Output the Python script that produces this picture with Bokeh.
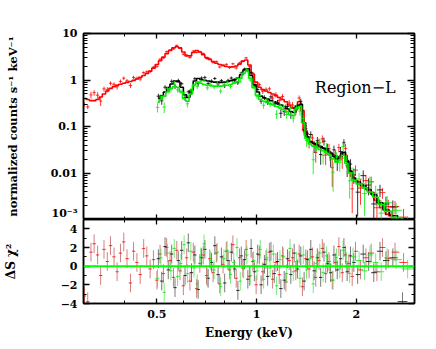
import numpy as np
from bokeh.plotting import figure
from bokeh.layouts import column
from bokeh.models import LogAxis, LinearAxis, FixedTicker, Label, Span
from bokeh.embed import file_html
from bokeh.resources import INLINE

# ---------------- data ----------------
red_E = [0.302, 0.309, 0.316, 0.323, 0.331, 0.338, 0.346, 0.354, 0.362, 0.371,
         0.379, 0.388, 0.397, 0.406, 0.416, 0.425, 0.435, 0.445, 0.456, 0.466,
         0.477, 0.488, 0.500, 0.511, 0.523, 0.535, 0.548, 0.561, 0.574, 0.587,
         0.601, 0.615, 0.629, 0.644, 0.659, 0.674, 0.690, 0.706, 0.722, 0.739,
         0.756, 0.774, 0.792, 0.810, 0.829, 0.848, 0.868, 0.888, 0.909, 0.930,
         0.952, 0.974, 0.997, 1.020, 1.044, 1.068, 1.093, 1.118, 1.144, 1.171,
         1.198, 1.226, 1.255, 1.284, 1.314, 1.345, 1.376, 1.408, 1.441, 1.475,
         1.509, 1.544, 1.580, 1.617, 1.655, 1.693, 1.733, 1.773, 1.815, 1.857,
         1.900, 1.945, 1.990, 2.060, 2.140, 2.220, 2.310, 2.400, 2.500, 2.620,
         2.780]
red_model = [0.40, 0.38, 0.36, 0.36, 0.38, 0.43, 0.50, 0.58, 0.66, 0.72,
             0.77, 0.81, 0.85, 0.89, 0.93, 0.98, 1.05, 1.14, 1.25, 1.38,
             1.55, 1.80, 2.15, 2.60, 3.10, 3.70, 4.30, 4.90, 5.20, 4.90,
             4.00, 3.30, 3.30, 3.90, 4.30, 4.00, 3.50, 3.05, 2.75, 2.50,
             2.30, 2.15, 2.05, 1.95, 1.90, 1.92, 2.00, 2.20, 2.55, 2.70,
             2.10, 1.35, 0.90, 0.70, 0.62, 0.58, 0.54, 0.50, 0.46, 0.42,
             0.38, 0.34, 0.29, 0.25, 0.24, 0.34, 0.22, 0.075, 0.050, 0.045,
             0.041, 0.038, 0.035, 0.032, 0.029, 0.025, 0.021, 0.020, 0.027, 0.024,
             0.013, 0.0085, 0.0068, 0.0058, 0.0048, 0.0038, 0.0026, 0.0018, 0.0013, 0.0010,
             0.0009]
red_err = [0.08, 0.08, 0.22, 0.20, 0.20, 0.18, 0.16, 0.14, 0.13, 0.12,
           0.12, 0.11, 0.11, 0.10, 0.10, 0.10, 0.09, 0.09, 0.08, 0.08,
           0.07, 0.07, 0.06, 0.06, 0.05, 0.05, 0.05, 0.04, 0.04, 0.04,
           0.05, 0.05, 0.05, 0.05, 0.04, 0.05, 0.05, 0.05, 0.06, 0.06,
           0.06, 0.06, 0.07, 0.07, 0.07, 0.07, 0.07, 0.06, 0.06, 0.06,
           0.07, 0.08, 0.10, 0.11, 0.12, 0.12, 0.13, 0.13, 0.14, 0.15,
           0.15, 0.16, 0.17, 0.18, 0.18, 0.16, 0.20, 0.24, 0.25, 0.26,
           0.27, 0.28, 0.29, 0.30, 0.31, 0.32, 0.34, 0.36, 0.32, 0.34,
           0.38, 0.42, 0.44, 0.46, 0.48, 0.50, 0.52, 0.55, 0.58, 0.60,
           0.62]
red_res = [-3.2, -3.8, 1.5, 2.4, 1.2, -1.0, 1.8, 0.5, 2.2, 1.0,
           -0.6, 1.4, 2.6, 0.8, -1.8, 1.6, 0.4, -0.9, 1.9, 1.1,
           -0.3, 0.7, -1.5, 1.3, -0.8, 2.0, 0.6, -1.2, 1.7, -0.5,
           -2.1, 0.9, -1.6, 1.5, -2.4, 0.3, 1.2, -1.0, 0.8, -0.7,
           1.4, -1.9, 0.2, 1.6, -0.4, 2.3, -1.3, 0.9, -0.2, 1.8,
           -1.1, 0.5, -2.0, 1.2, -0.6, 0.7, 1.5, -1.4, 0.4, -0.9,
           1.1, -1.7, 0.6, 0.9, -0.5, 1.3, -2.2, 0.8, -0.3, 1.0,
           -1.2, 0.6, 1.9, -0.8, 0.5, -1.5, 0.4, 2.1, -0.7, 1.2,
           0.3, -1.1, 1.6, -0.4, 0.9, 1.4, -0.6, 2.0, 0.8, 1.5,
           0.4]

black_E = [0.505, 0.517, 0.529, 0.541, 0.554, 0.567, 0.580, 0.594, 0.608, 0.622,
           0.636, 0.651, 0.666, 0.682, 0.698, 0.714, 0.731, 0.748, 0.765, 0.783,
           0.801, 0.820, 0.839, 0.858, 0.878, 0.899, 0.920, 0.941, 0.963, 0.985,
           1.008, 1.032, 1.056, 1.080, 1.105, 1.131, 1.157, 1.184, 1.212, 1.240,
           1.269, 1.299, 1.329, 1.360, 1.392, 1.424, 1.458, 1.492, 1.526, 1.562,
           1.598, 1.636, 1.674, 1.713, 1.753, 1.794, 1.836, 1.878, 1.922, 1.967,
           2.020, 2.100, 2.180, 2.260, 2.360, 2.460, 2.580, 2.760]
black_model = [0.40, 0.46, 0.55, 0.68, 0.82, 0.95, 0.92, 0.70, 0.48, 0.42,
               0.60, 0.95, 1.08, 1.02, 0.98, 0.95, 0.92, 0.90, 0.90, 0.89,
               0.90, 0.93, 0.97, 1.02, 1.10, 1.30, 1.65, 1.75, 1.25, 0.80,
               0.55, 0.45, 0.41, 0.39, 0.36, 0.34, 0.31, 0.29, 0.27, 0.24,
               0.21, 0.20, 0.28, 0.30, 0.12, 0.060, 0.047, 0.043, 0.040, 0.037,
               0.034, 0.031, 0.027, 0.023, 0.020, 0.023, 0.028, 0.018, 0.011, 0.0078,
               0.0065, 0.0054, 0.0044, 0.0034, 0.0023, 0.0016, 0.0012, 0.0009]
black_err = [0.15, 0.14, 0.13, 0.12, 0.11, 0.10, 0.10, 0.11, 0.13, 0.13,
             0.12, 0.10, 0.09, 0.09, 0.09, 0.09, 0.09, 0.09, 0.09, 0.09,
             0.09, 0.09, 0.09, 0.09, 0.08, 0.08, 0.07, 0.07, 0.08, 0.09,
             0.10, 0.11, 0.12, 0.12, 0.13, 0.13, 0.14, 0.14, 0.15, 0.15,
             0.16, 0.17, 0.15, 0.15, 0.18, 0.22, 0.24, 0.25, 0.26, 0.27,
             0.28, 0.29, 0.30, 0.31, 0.32, 0.32, 0.30, 0.34, 0.38, 0.42,
             0.45, 0.48, 0.50, 0.52, 0.55, 0.58, 0.60, 0.20]
black_res = [0.8, -1.6, 2.1, -0.4, 1.3, -2.3, 0.6, 1.7, -1.0, 2.5,
             -0.7, 1.2, -2.5, 0.9, 1.8, -1.3, 0.4, 2.2, -0.9, 1.0,
             -1.8, 0.6, 1.5, -0.3, -2.6, 1.1, 0.7, -1.4, 1.9, -0.6,
             1.3, -2.0, 0.2, -1.1, 1.6, -0.8, 0.5, -2.4, -1.5, 0.8,
             -0.9, 1.4, -0.3, 1.1, -1.6, 0.7, 1.8, -0.5, 0.9, -1.2,
             1.5, 0.3, -0.7, 1.2, -0.4, 0.8, 2.0, -0.6, 1.1, 0.4,
             -0.9, 1.3, 0.5, -0.7, 1.6, 0.6, 0.9, -3.8]

green_E = [0.502, 0.514, 0.526, 0.538, 0.551, 0.564, 0.577, 0.591, 0.604, 0.618,
           0.633, 0.647, 0.662, 0.678, 0.694, 0.710, 0.727, 0.744, 0.761, 0.779,
           0.797, 0.815, 0.834, 0.853, 0.873, 0.893, 0.914, 0.935, 0.957, 0.980,
           1.003, 1.026, 1.050, 1.074, 1.099, 1.124, 1.150, 1.177, 1.205, 1.233,
           1.262, 1.291, 1.321, 1.352, 1.384, 1.416, 1.449, 1.483, 1.517, 1.553,
           1.589, 1.626, 1.664, 1.703, 1.743, 1.784, 1.826, 1.868, 1.911, 1.956,
           2.040, 2.120, 2.200, 2.290, 2.380, 2.480, 2.640, 2.860]
green_model = [0.33, 0.38, 0.45, 0.55, 0.66, 0.72, 0.70, 0.55, 0.40, 0.35,
               0.50, 0.78, 0.90, 0.85, 0.80, 0.77, 0.75, 0.74, 0.74, 0.74,
               0.75, 0.77, 0.80, 0.85, 0.92, 1.08, 1.40, 1.55, 1.10, 0.68,
               0.47, 0.38, 0.35, 0.33, 0.31, 0.29, 0.27, 0.25, 0.23, 0.21,
               0.18, 0.17, 0.24, 0.27, 0.12, 0.055, 0.042, 0.038, 0.035, 0.032,
               0.030, 0.027, 0.024, 0.020, 0.017, 0.019, 0.024, 0.016, 0.010, 0.0070,
               0.0058, 0.0048, 0.0039, 0.0030, 0.0021, 0.0015, 0.0011, 0.0008]
green_err = [0.17, 0.16, 0.15, 0.13, 0.12, 0.11, 0.11, 0.12, 0.14, 0.15,
             0.13, 0.11, 0.10, 0.10, 0.10, 0.10, 0.10, 0.10, 0.10, 0.10,
             0.10, 0.10, 0.10, 0.09, 0.09, 0.08, 0.08, 0.08, 0.09, 0.10,
             0.11, 0.12, 0.13, 0.13, 0.14, 0.14, 0.15, 0.16, 0.16, 0.17,
             0.18, 0.18, 0.16, 0.16, 0.20, 0.24, 0.25, 0.26, 0.27, 0.28,
             0.29, 0.30, 0.31, 0.32, 0.34, 0.34, 0.32, 0.36, 0.40, 0.44,
             0.46, 0.50, 0.52, 0.55, 0.58, 0.60, 0.62, 0.65]
green_res = [-1.3, 0.9, -2.8, 1.4, -0.5, 1.9, -1.1, 0.3, 2.3, -0.8,
             1.6, -0.2, -1.9, 1.0, 2.4, -1.2, 0.6, -0.4, 1.5, -2.2,
             0.8, 1.7, -0.9, 0.4, 2.0, -1.6, -0.3, 1.2, -1.0, 0.6,
             -0.5, 1.8, -1.4, 0.9, -0.2, 1.3, -2.1, 0.7, 1.0, -0.8,
             1.9, -0.6, 0.5, -1.3, 1.2, -0.4, 0.8, -1.9, 0.3, 1.4,
             -0.7, 1.1, 0.2, -1.5, 0.9, -0.3, 1.7, 0.5, -0.8, 1.0,
             0.6, -0.5, 1.2, 0.4, -0.6, 0.9, 0.7, -0.3]

x_ticks = [0.5, 1, 2]
x_tick_labels = ["0.5", "1", "2"]
x_minor = [0.3, 0.4, 0.6, 0.7, 0.8, 0.9, 3]
top_ticks = [0.001, 0.01, 0.1, 1, 10]
top_tick_labels = ["10⁻³", "0.01", "0.1", "1", "10"]
res_ticks = [-4, -2, 0, 2, 4]
res_tick_labels = ["−4", "−2", "0", "2", "4"]
res_minor = [-3, -1, 1, 3]
x_label = "Energy (keV)"
y_label_top = "normalized counts s⁻¹ keV⁻¹"
y_label_res = "ΔS χ²"
region_text = "Region−L"

FONT = "DejaVu Serif"
y_minor = [k * 10.0 ** d for d in (-3, -2, -1, 0) for k in range(2, 10)]


def bin_edges(E):
    E = np.asarray(E, float)
    mid = np.sqrt(E[:-1] * E[1:])
    lo = np.concatenate([[E[0] ** 2 / mid[0]], mid])
    hi = np.concatenate([mid, [E[-1] ** 2 / mid[-1]]])
    return lo, hi


def set_ticks(ax, ticks, minor, labels=None, major_len=6, minor_len=3):
    ax.ticker = FixedTicker(ticks=ticks, minor_ticks=minor)
    ax.major_tick_in = major_len
    ax.major_tick_out = 0
    ax.minor_tick_in = minor_len
    ax.minor_tick_out = 0
    ax.axis_line_width = 1.5
    ax.axis_line_color = "black"
    ax.major_tick_line_width = 1.3
    ax.minor_tick_line_width = 1.0
    ax.major_tick_line_color = "black"
    ax.minor_tick_line_color = "black"
    if labels is None:
        ax.major_label_overrides = {t: "" for t in ticks}
        ax.major_label_text_font_size = "0px"
        ax.major_label_standoff = 0
    else:
        ax.major_label_overrides = dict(zip(ticks, labels))
        ax.major_label_text_font = FONT
        ax.major_label_text_font_style = "bold"
        ax.major_label_text_font_size = "11px"
        ax.major_label_text_color = "black"
        ax.major_label_standoff = 6


def style_label(ax, text, size, standoff):
    ax.axis_label = text
    ax.axis_label_text_font = FONT
    ax.axis_label_text_font_style = "bold"
    ax.axis_label_text_font_size = size
    ax.axis_label_text_color = "black"
    ax.axis_label_standoff = standoff


common = dict(output_backend="svg", toolbar_location=None, width=430,
              min_border_left=83, min_border_right=16, background_fill_color="white",
              border_fill_color="white")

p1 = figure(height=219, x_axis_type="log", y_axis_type="log",
            x_range=(0.3, 3.0), y_range=(1e-3, 10),
            min_border_top=33, min_border_bottom=0, **common)
p2 = figure(height=126, x_axis_type="log", x_range=p1.x_range, y_range=(-4, 5),
            min_border_top=0, min_border_bottom=42, **common)

for p in (p1, p2):
    p.grid.visible = False
    p.outline_line_color = "black"
    p.outline_line_width = 1.5

# top panel axes
set_ticks(p1.xaxis[0], x_ticks, x_minor, None, 5, 3)
set_ticks(p1.yaxis[0], top_ticks, y_minor, top_tick_labels, 7, 4)
style_label(p1.yaxis[0], y_label_top, "11.5px", 28)
ax = LogAxis()
set_ticks(ax, x_ticks, x_minor, None, 5, 3)
p1.add_layout(ax, "above")
ax = LogAxis()
set_ticks(ax, top_ticks, y_minor, None, 7, 4)
p1.add_layout(ax, "right")

# residual panel axes
set_ticks(p2.xaxis[0], x_ticks, x_minor, x_tick_labels, 5, 3)
style_label(p2.xaxis[0], x_label, "12px", 5)
p2.xaxis[0].major_label_standoff = 6
set_ticks(p2.yaxis[0], res_ticks, res_minor, res_tick_labels, 6, 3)
style_label(p2.yaxis[0], y_label_res, "12px", 40)
ax = LogAxis()
set_ticks(ax, x_ticks, x_minor, None, 5, 3)
p2.add_layout(ax, "above")
ax = LinearAxis()
set_ticks(ax, res_ticks, res_minor, None, 6, 3)
p2.add_layout(ax, "right")

series = [
    (red_E, red_model, red_err, red_res, "#ff0000", "#c03a3a"),
    (black_E, black_model, black_err, black_res, "#000000", "#333333"),
    (green_E, green_model, green_err, green_res, "#00ee00", "#33dd33"),
]

for E, model, err, res, col, rcol in series:
    E = np.asarray(E, float)
    m = np.asarray(model, float)
    e = np.asarray(err, float)
    r = np.asarray(res, float)
    lo, hi = bin_edges(E)
    d = m * (1 + r * e)
    s = m * e
    ylo = np.maximum(d - s, d * 0.3)
    yhi = d + s
    p1.segment(x0=lo, y0=d, x1=hi, y1=d, line_color=col, line_width=1, line_alpha=0.8)
    p1.segment(x0=E, y0=ylo, x1=E, y1=yhi, line_color=col, line_width=1, line_alpha=0.8)
    p1.step(E, m, mode="center", line_color=col, line_width=1.6)

for E, model, err, res, col, rcol in series:
    E = np.asarray(E, float)
    r = np.asarray(res, float)
    lo, hi = bin_edges(E)
    p2.segment(x0=E, y0=r - 1, x1=E, y1=r + 1, line_color=rcol, line_width=1, line_alpha=0.65)
    p2.segment(x0=lo, y0=r, x1=hi, y1=r, line_color=col, line_width=1, line_alpha=0.8)

p2.add_layout(Span(location=0, dimension="width", line_color="#00ff00", line_width=2))

p1.add_layout(Label(x=1.5, y=0.69, text=region_text, text_font=FONT,
                    text_font_size="16px", text_color="black",
                    text_baseline="alphabetic", text_align="left"))

layout = column(p1, p2, spacing=0)
open("out.html", "w").write(file_html(layout, INLINE))
